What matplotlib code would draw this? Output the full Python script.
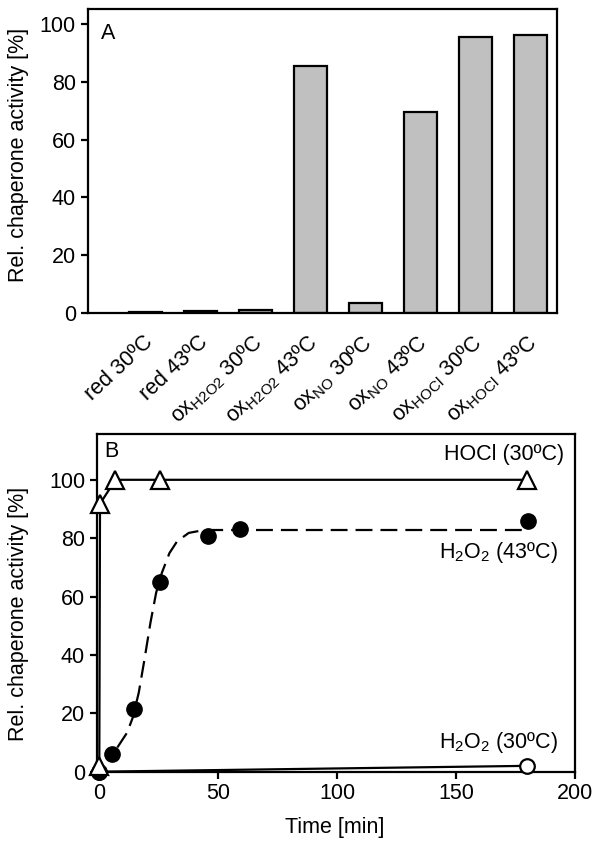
"""Two-panel chaperone activity figure: bar chart (A) and time course (B)."""
import matplotlib

matplotlib.use("Agg")
import matplotlib.pyplot as plt
import matplotlib.transforms as mtransforms

plt.rcParams["font.family"] = ["Liberation Sans", "DejaVu Sans"]
plt.rcParams["mathtext.fontset"] = "custom"
plt.rcParams["mathtext.rm"] = "Liberation Sans"
plt.rcParams["mathtext.default"] = "regular"

# panel A: activity per condition
conditions = [
    "red 30ºC",
    "red 43ºC",
    r"ox$_{H2O2}$ 30ºC",
    r"ox$_{H2O2}$ 43ºC",
    r"ox$_{NO}$ 30ºC",
    r"ox$_{NO}$ 43ºC",
    r"ox$_{HOCl}$ 30ºC",
    r"ox$_{HOCl}$ 43ºC",
]
activity = [0.5, 0.7, 1.2, 85.3, 3.4, 69.6, 95.6, 96.2]

# panel B: time courses (min, % activity)
hocl_t = [0, 0.3, 6.8, 25.4, 180]
hocl_y = [2.0, 91.8, 100, 100, 100]
h2o2_43_t = [0, 5.2, 14.6, 25.4, 45.8, 59.0, 180.4]
h2o2_43_y = [0, 6.0, 21.4, 64.9, 80.9, 83.3, 85.8]
h2o2_30_t = [0, 180]
h2o2_30_y = [0, 2.0]
# dashed fit line for H2O2 (43ºC)
fit_t = [7.6, 11.7, 14.1, 16.6, 19.0, 21.5, 23.9, 26.3, 29.5, 32.7, 37.6, 44.1, 177.7]
fit_y = [8.3, 13.4, 18.6, 27.1, 38.5, 51.0, 61.3, 68.1, 74.9, 78.9, 81.8, 82.8, 82.8]

FS = 15.5
LW = 1.6

fig = plt.figure(figsize=(6.02, 8.43), dpi=100)

# ---- panel A ----
ax = fig.add_axes([0.1457, 0.6284, 0.779, 0.3605])
x = list(range(len(activity)))
ax.bar(x, activity, width=0.61, color="#c0c0c0", edgecolor="black", linewidth=LW)
ax.set_xlim(-1.05, 7.48)
ax.set_ylim(0, 105)
ax.set_yticks([0, 20, 40, 60, 80, 100])
ax.set_xticks([])
# rotated category labels, top-right corner just below and right of each bar
lab_tr = ax.get_xaxis_transform() + mtransforms.ScaledTranslation(
    0.12, -0.18, fig.dpi_scale_trans)
for xi, name in zip(x, conditions):
    ax.text(xi, 0, name, transform=lab_tr, rotation=43, ha="right", va="top",
            fontsize=FS)
ax.tick_params(axis="y", direction="out", length=5, width=LW, labelsize=FS)
for s in ax.spines.values():
    s.set_linewidth(LW)
ax.set_ylabel("Rel. chaperone activity [%]", fontsize=FS)
ax.yaxis.set_label_coords(-0.125, 0.52)
ax.text(0.028, 0.921, "A", transform=ax.transAxes, fontsize=FS, ha="left", va="center")

# ---- panel B ----
bx = fig.add_axes([0.161, 0.0846, 0.794, 0.4006])
bx.plot(h2o2_30_t, h2o2_30_y, "-", color="black", lw=LW, marker="o", ms=10.5,
        mfc="white", mec="black", mew=LW, clip_on=False, zorder=3)
bx.plot(fit_t, fit_y, "--", color="black", lw=LW, dashes=(7.6, 3.6))
bx.plot(h2o2_43_t, h2o2_43_y, "o", color="black", ms=11, clip_on=False, zorder=4)
bx.plot(hocl_t, hocl_y, "-", color="black", lw=LW, marker="^", ms=13,
        mfc="white", mec="black", mew=LW, clip_on=False, zorder=5)
bx.set_xlim(-1, 200)
bx.set_ylim(0, 115.7)
bx.set_xticks([0, 50, 100, 150, 200])
bx.set_yticks([0, 20, 40, 60, 80, 100])
bx.tick_params(direction="out", length=5, width=LW, labelsize=FS)
for s in bx.spines.values():
    s.set_linewidth(LW)
bx.set_ylabel("Rel. chaperone activity [%]", fontsize=FS)
bx.yaxis.set_label_coords(-0.142, 0.467)
bx.set_xlabel("Time [min]", fontsize=FS)
bx.xaxis.set_label_coords(0.497, -0.133)
bx.text(0.016, 0.948, "B", transform=bx.transAxes, fontsize=FS, ha="left", va="center")
bx.text(195.5, 108.5, "HOCl (30ºC)", fontsize=FS, ha="right", va="center")
bx.text(192.8, 75, r"H$_2$O$_2$ (43ºC)", fontsize=FS, ha="right", va="center")
bx.text(193, 10, r"H$_2$O$_2$ (30ºC)", fontsize=FS, ha="right", va="center")

fig.savefig("out.png", dpi=100)
